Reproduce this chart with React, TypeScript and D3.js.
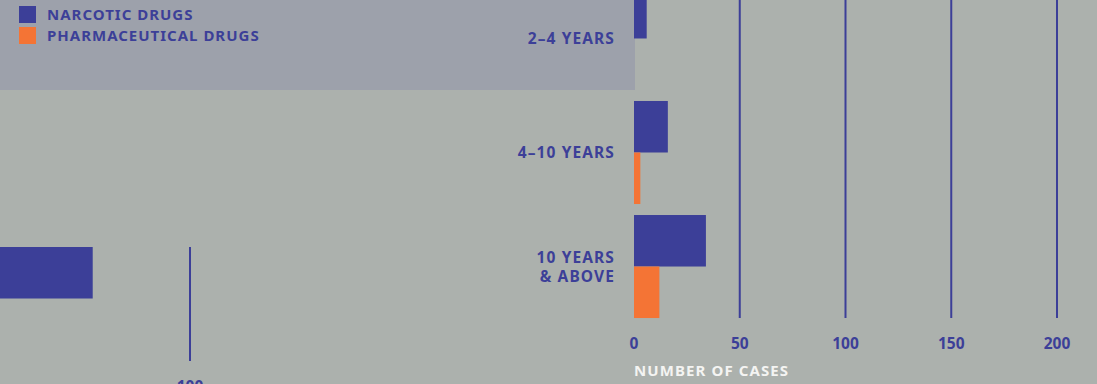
import React, { useEffect, useRef } from "react";
import * as d3 from "d3";

// right chart: cases by duration of use
const ageGroups = ["2–4 YEARS", "4–10 YEARS", "10 YEARS\n& ABOVE"];
const narcoticCases = [6, 16, 34];
const pharmaCases = [0, 3, 12];
const xTicks = [0, 50, 100, 150, 200];

// left fragment (neighbouring panel, mostly cut off)
const leftNarcotic = [54];
const leftTicks = [100];

const legendItems = ["NARCOTIC DRUGS", "PHARMACEUTICAL DRUGS"];

const NAVY = "#3c3f98";
const ORANGE = "#f47435";
const BG = "#acb1ad";
const FONT = "'Noto Sans', 'Open Sans', sans-serif";

export default function App() {
  const svgRef = useRef<SVGSVGElement>(null);

  useEffect(() => {
    if (!svgRef.current) return;
    const svg = d3.select(svgRef.current);
    svg.selectAll("*").remove();

    const width = 1097;
    const height = 384;

    svg.append("rect").attr("width", width).attr("height", height).attr("fill", BG);

    // legend overlay panel (sits under the marks)
    svg.append("rect")
      .attr("x", 0)
      .attr("y", 0)
      .attr("width", 635)
      .attr("height", 90)
      .attr("fill", "#9da1ab");

    // scales for right chart
    const x = d3.scaleLinear().domain([0, 200]).range([634, 1057]);
    const y = d3.scaleBand<string>()
      .domain(ageGroups)
      .range([-18.5, 323.5])
      .paddingInner(0.0965)
      .paddingOuter(0.048);
    const inner = d3.scaleBand<string>()
      .domain(["narcotic", "pharma"])
      .range([0, y.bandwidth()]);

    const gridBottom = (y(ageGroups[2]) ?? 0) + y.bandwidth();

    // gridlines
    svg.append("g")
      .selectAll("line")
      .data(xTicks.filter((d) => d > 0))
      .join("line")
      .attr("x1", (d) => x(d))
      .attr("x2", (d) => x(d))
      .attr("y1", 0)
      .attr("y2", gridBottom)
      .attr("stroke", NAVY)
      .attr("stroke-width", 2);

    // bars
    const groups = svg.append("g")
      .selectAll("g")
      .data(ageGroups)
      .join("g")
      .attr("transform", (d) => `translate(0,${y(d)})`);

    groups.append("rect")
      .attr("x", x(0))
      .attr("y", inner("narcotic")!)
      .attr("width", (_, i) => x(narcoticCases[i]) - x(0))
      .attr("height", inner.bandwidth())
      .attr("fill", NAVY);

    groups.append("rect")
      .attr("x", x(0))
      .attr("y", inner("pharma")!)
      .attr("width", (_, i) => x(pharmaCases[i]) - x(0))
      .attr("height", inner.bandwidth())
      .attr("fill", ORANGE);

    // category labels (one text per line)
    groups.each(function (d) {
      const lines = d.split("\n");
      const lh = 19;
      const startY = y.bandwidth() / 2 - ((lines.length - 1) * lh) / 2 + 5.5;
      d3.select(this)
        .selectAll("text")
        .data(lines)
        .join("text")
        .attr("x", 615)
        .attr("y", (_, i) => startY + i * lh)
        .attr("text-anchor", "end")
        .attr("font-family", FONT)
        .attr("font-weight", 700)
        .attr("font-size", 15.5)
        .attr("letter-spacing", 1.1)
        .attr("fill", NAVY)
        .text((l) => l);
    });

    // x tick labels
    svg.append("g")
      .selectAll("text")
      .data(xTicks)
      .join("text")
      .attr("x", (d) => x(d))
      .attr("y", 349)
      .attr("text-anchor", "middle")
      .attr("font-family", FONT)
      .attr("font-weight", 700)
      .attr("font-size", 15.5)
      .attr("fill", NAVY)
      .text((d) => d);

    svg.append("text")
      .attr("x", 634)
      .attr("y", 376)
      .attr("font-family", FONT)
      .attr("font-weight", 700)
      .attr("font-size", 15)
      .attr("letter-spacing", 1.1)
      .attr("fill", "#f4f4f2")
      .text("NUMBER OF CASES");

    // left fragment
    const xl = d3.scaleLinear().domain([0, 100]).range([-21.5, 190]);
    svg.append("g")
      .selectAll("line")
      .data(leftTicks)
      .join("line")
      .attr("x1", (d) => xl(d))
      .attr("x2", (d) => xl(d))
      .attr("y1", 247)
      .attr("y2", 361)
      .attr("stroke", NAVY)
      .attr("stroke-width", 2);
    svg.append("g")
      .selectAll("rect")
      .data(leftNarcotic)
      .join("rect")
      .attr("x", xl(0))
      .attr("y", 247)
      .attr("width", (d) => xl(d) - xl(0))
      .attr("height", inner.bandwidth())
      .attr("fill", NAVY);
    svg.append("g")
      .selectAll("text")
      .data(leftTicks)
      .join("text")
      .attr("x", (d) => xl(d))
      .attr("y", 392)
      .attr("text-anchor", "middle")
      .attr("font-family", FONT)
      .attr("font-weight", 700)
      .attr("font-size", 15.5)
      .attr("fill", NAVY)
      .text((d) => d);

    // legend
    const legend = svg.append("g")
      .selectAll("g")
      .data(legendItems)
      .join("g")
      .attr("transform", (_, i) => `translate(19,${6 + i * 21})`);
    legend.append("rect")
      .attr("width", 17)
      .attr("height", 17)
      .attr("fill", (_, i) => (i === 0 ? NAVY : ORANGE));
    legend.append("text")
      .attr("x", 28)
      .attr("y", 14)
      .attr("font-family", FONT)
      .attr("font-weight", 700)
      .attr("font-size", 15)
      .attr("letter-spacing", 1)
      .attr("fill", NAVY)
      .text((d) => d);
  }, []);

  return (
    <div>
      <style>{`body { margin: 0; }`}</style>
      <svg ref={svgRef} width={1097} height={384} style={{ display: "block" }} />
    </div>
  );
}
